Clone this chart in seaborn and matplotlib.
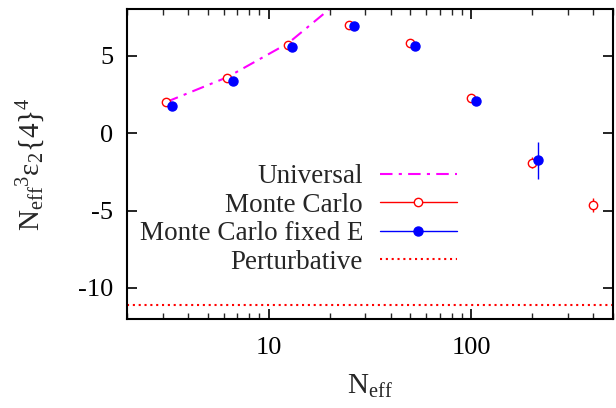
import numpy as np
import pandas as pd
import matplotlib
matplotlib.use("Agg")
import matplotlib.pyplot as plt
from matplotlib.lines import Line2D
import seaborn as sns

# ---- data ----
univ_x = [3.125, 6.25, 12.5, 25.0]
univ_y = [2.0, 3.6, 5.8, 9.05]

mc_x = [3.125, 6.25, 12.5, 25.0, 50.0, 100.0, 200.0, 400.0]
mc_y = [2.0, 3.55, 5.67, 6.95, 5.8, 2.25, -1.93, -4.64]
mc_err = [0.05, 0.05, 0.1, 0.2, 0.25, 0.2, 0.35, 0.45]

fe_x = [3.33, 6.65, 13.1, 26.5, 53.0, 106.0, 214.0]
fe_y = [1.74, 3.35, 5.54, 6.89, 5.6, 2.06, -1.77]
fe_err = [0.05, 0.05, 0.1, 0.15, 0.2, 0.25, 1.19]

pert_y = -11.1

labels = ["Universal", "Monte Carlo", "Monte Carlo fixed E", "Perturbative"]
x_ticks = [10, 100]
y_ticks = [-10, -5, 0, 5]

sns.set_theme(style="ticks")
plt.rcParams["font.family"] = ["Liberation Serif", "DejaVu Serif"]
plt.rcParams["mathtext.fontset"] = "custom"
plt.rcParams["mathtext.rm"] = "Liberation Serif"
plt.rcParams["mathtext.it"] = "Liberation Serif:italic"

fig = plt.figure(figsize=(6.16, 4.08), dpi=100)
ax = fig.add_axes([127/616, 1-319/408, (613-127)/616, (319-9)/408])

magenta = "#ff00ff"
red = "#ff0000"
blue = "#0000ff"

df_u = pd.DataFrame({"x": univ_x, "y": univ_y})
sns.lineplot(data=df_u, x="x", y="y", ax=ax, color=magenta, lw=1.5,
             linestyle=(0, (6, 3, 1.5, 3)), legend=False, zorder=2)

ax.errorbar(mc_x, mc_y, yerr=mc_err, fmt="o", mfc="white", mec=red, ecolor=red,
            ms=6, mew=1.0, elinewidth=1.0, capsize=0, zorder=3)
ax.errorbar(fe_x, fe_y, yerr=fe_err, fmt="o", mfc=blue, mec=blue, ecolor=blue,
            ms=6.5, mew=1.0, elinewidth=1.0, capsize=0, zorder=4)
ax.axhline(pert_y, color=red, lw=1.5, linestyle=(0, (1, 1.8)), zorder=2)

ax.set_xscale("log")
ax.set_xlim(2, 500)
ax.set_ylim(-12, 8)
ax.set_xticks(x_ticks)
ax.set_xticklabels([str(t) for t in x_ticks])
ax.set_yticks(y_ticks)
ax.set_yticklabels([str(t) for t in y_ticks])

for s in ax.spines.values():
    s.set_linewidth(1.5)
    s.set_color("black")
    s.set_visible(True)

ax.tick_params(which="major", direction="in", length=7, width=1.2,
               top=True, right=True, labelsize=19, colors="black")
ax.tick_params(axis="x", which="major", pad=13)
ax.tick_params(axis="y", which="major", pad=10)
ax.tick_params(which="minor", direction="in", length=4, width=1.0,
               top=True, right=True)
ax.tick_params(axis="y", which="minor", left=False, right=False)

ax.set_xlabel(r"$\mathrm{N_{eff}}$", fontsize=21, labelpad=10)
ax.set_ylabel(r"$\mathrm{N_{eff}{}^{3}ε_{2}\{4\}^{4}}$", fontsize=21, labelpad=22)

handles = [
    Line2D([], [], color=magenta, lw=1.5, linestyle=(0, (6, 3, 1.5, 3))),
    Line2D([], [], color=red, lw=1.0, marker="o", mfc="white", mec=red, ms=6),
    Line2D([], [], color=blue, lw=1.0, marker="o", mfc=blue, mec=blue, ms=6.5),
    Line2D([], [], color=red, lw=1.5, linestyle=(0, (1, 1.8))),
]
leg = ax.legend(handles, labels, loc="upper right",
                bbox_to_anchor=(457/616, 1-164/408), bbox_transform=fig.transFigure,
                frameon=False, markerfirst=False, fontsize=19.5, labelspacing=0.13,
                handlelength=2.85, handletextpad=0.62, borderpad=0, borderaxespad=0,
                alignment="right")
for t in leg.get_texts():
    t.set_ha("right")

fig.savefig("out.png", dpi=100)
